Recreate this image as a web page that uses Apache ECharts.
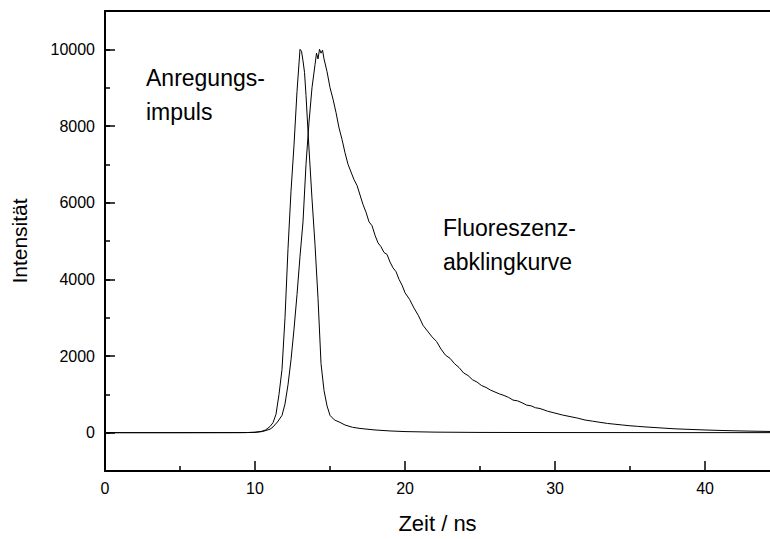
<!DOCTYPE html>
<html>
<head>
<meta charset="utf-8">
<script src="https://cdn.jsdelivr.net/npm/echarts@6/dist/echarts.min.js"></script>
<style>html,body{margin:0;padding:0;background:#fff}#c{width:770px;height:539px}</style>
</head>
<body>
<div id="c"></div>
<script>
// Axis tick labels
const xTickLabels = [0, 10, 20, 30, 40];
const yTickLabels = [0, 2000, 4000, 6000, 8000, 10000];

// Excitation pulse (Anregungsimpuls): time (ns) and intensity
const tPulse = [0, 5, 9, 9.5, 10, 10.4, 10.7, 11.0, 11.2, 11.4, 11.6, 11.8, 12.0, 12.2, 12.4, 12.6, 12.8, 13.0, 13.1, 13.2, 13.3, 13.4, 13.6, 13.8, 14.0, 14.2, 14.4, 14.6, 14.8, 15.0, 15.3, 15.6, 16.0, 16.5, 17.0, 18.0, 19.0, 20.0, 22.0, 25.0, 30.0, 35.0, 40.0, 44.33];
const iPulse = [0, 0, 2, 4, 10, 30, 70, 160, 260, 480, 1000, 1650, 3000, 4800, 6300, 7500, 8900, 10000, 9950, 9700, 9400, 8800, 7400, 6100, 4900, 3500, 1800, 1100, 700, 450, 330, 280, 200, 140, 110, 70, 45, 28, 14, 6, 3, 2, 1, 1];

// Fluorescence decay (Fluoreszenzabklingkurve)
const tFluo = [0, 5, 9, 9.5, 10.0, 10.5, 11.0, 11.2, 11.5, 11.8, 12.0, 12.2, 12.4, 12.6, 12.8, 13.0, 13.2, 13.4, 13.6, 13.8, 14.0, 14.1, 14.2, 14.3, 14.4, 14.5, 14.6, 14.8, 15.0, 15.2, 15.4, 15.6, 15.8, 16.0, 16.2, 16.4, 16.6, 16.8, 17.0, 17.2, 17.4, 17.6, 17.8, 18.0, 18.2, 18.4, 18.6, 18.8, 19.0, 19.2, 19.4, 19.6, 19.8, 20.0, 20.3, 20.6, 20.9, 21.2, 21.5, 21.8, 22.1, 22.4, 22.7, 23.0, 23.3, 23.6, 23.9, 24.2, 24.5, 24.8, 25.1, 25.4, 25.7, 26.0, 26.3, 26.6, 26.9, 27.2, 27.5, 27.8, 28.1, 28.4, 28.7, 29.0, 29.5, 30.0, 30.5, 31.0, 31.5, 32.0, 32.5, 33.0, 33.5, 34.0, 34.5, 35.0, 35.5, 36.0, 37.0, 38.0, 39.0, 40.0, 41.0, 42.0, 43.0, 44.33];
const iFluo = [0, 0, 1, 3, 10, 30, 90, 150, 280, 450, 750, 1250, 1900, 2700, 3600, 4600, 5500, 7000, 8100, 9000, 9600, 9900, 9750, 10000, 9900, 9980, 9750, 9420, 9000, 8700, 8350, 7950, 7650, 7300, 7000, 6800, 6600, 6450, 6200, 5950, 5750, 5500, 5400, 5150, 4950, 4850, 4700, 4650, 4450, 4300, 4200, 4000, 3850, 3650, 3480, 3250, 3050, 2800, 2650, 2500, 2380, 2180, 2020, 1940, 1800, 1700, 1560, 1490, 1380, 1320, 1230, 1180, 1110, 1060, 1010, 970, 920, 850, 830, 780, 720, 700, 650, 630, 560, 510, 460, 420, 380, 330, 300, 270, 240, 220, 200, 180, 165, 150, 125, 100, 85, 70, 58, 48, 40, 32];

const FONT = '"Liberation Sans", Arial, sans-serif';
const xMin = 0, xMax = 44.33, yMin = -1000, yMax = 11000;

const pulseData = tPulse.map((t, i) => [t, iPulse[i]]);
const fluoData = tFluo.map((t, i) => [t, iFluo[i]]);

const chart = echarts.init(document.getElementById('c'), null, {renderer: 'svg'});
const axisLine = {show: true, onZero: false, lineStyle: {color: '#000', width: 2}};
const plain = v => String(v);
chart.setOption({
  animation: false,
  backgroundColor: '#fff',
  grid: {left: 105, right: 0, top: 11, bottom: 68, containLabel: false},
  xAxis: [
    {
      type: 'value', position: 'bottom', min: xMin, max: xMax, interval: 10,
      axisLine: axisLine,
      axisTick: {show: true, inside: true, length: 10, customValues: xTickLabels, lineStyle: {color: '#000', width: 1.5}},
      minorTick: {show: true, splitNumber: 2, length: 5, lineStyle: {color: '#000', width: 1.5}},
      axisLabel: {customValues: xTickLabels, formatter: plain, color: '#000', fontSize: 16, fontFamily: FONT, margin: 9},
      splitLine: {show: false},
      name: 'Zeit / ns', nameLocation: 'middle', nameGap: 41,
      nameTextStyle: {color: '#000', fontSize: 22, fontFamily: FONT}
    },
    {
      type: 'value', position: 'top', min: xMin, max: xMax,
      axisLine: axisLine, axisTick: {show: false}, axisLabel: {show: false}, splitLine: {show: false}
    }
  ],
  yAxis: [
    {
      type: 'value', position: 'left', min: yMin, max: yMax, interval: 1000,
      axisLine: axisLine,
      axisTick: {show: true, inside: true, length: 10, customValues: yTickLabels, lineStyle: {color: '#000', width: 1.5}},
      axisLabel: {customValues: yTickLabels, formatter: plain, color: '#000', fontSize: 16, fontFamily: FONT, margin: 10},
      splitLine: {show: false},
      name: 'Intensität', nameLocation: 'middle', nameGap: 75,
      nameTextStyle: {color: '#000', fontSize: 21, fontFamily: FONT}
    },
    {
      type: 'value', position: 'left', min: yMin, max: yMax, interval: 1000,
      axisLine: {show: false, onZero: false},
      axisTick: {show: true, inside: true, length: 5, lineStyle: {color: '#000', width: 1.5}},
      axisLabel: {show: false}, splitLine: {show: false}
    }
  ],
  series: [
    {
      name: 'Anregungsimpuls', type: 'line', data: pulseData, showSymbol: false, symbol: 'none',
      lineStyle: {color: '#000', width: 1}, clip: true
    },
    {
      name: 'Fluoreszenzabklingkurve', type: 'line', data: fluoData, showSymbol: false, symbol: 'none',
      lineStyle: {color: '#000', width: 1}, clip: true
    }
  ],
  graphic: [
    {type: 'text', left: 146, top: 61, style: {text: 'Anregungs-\nimpuls', fill: '#000', fontSize: 23, lineHeight: 34, fontFamily: FONT}},
    {type: 'text', left: 443, top: 211, style: {text: 'Fluoreszenz-\nabklingkurve', fill: '#000', fontSize: 23, lineHeight: 34, fontFamily: FONT}}
  ]
});
</script>
</body>
</html>
